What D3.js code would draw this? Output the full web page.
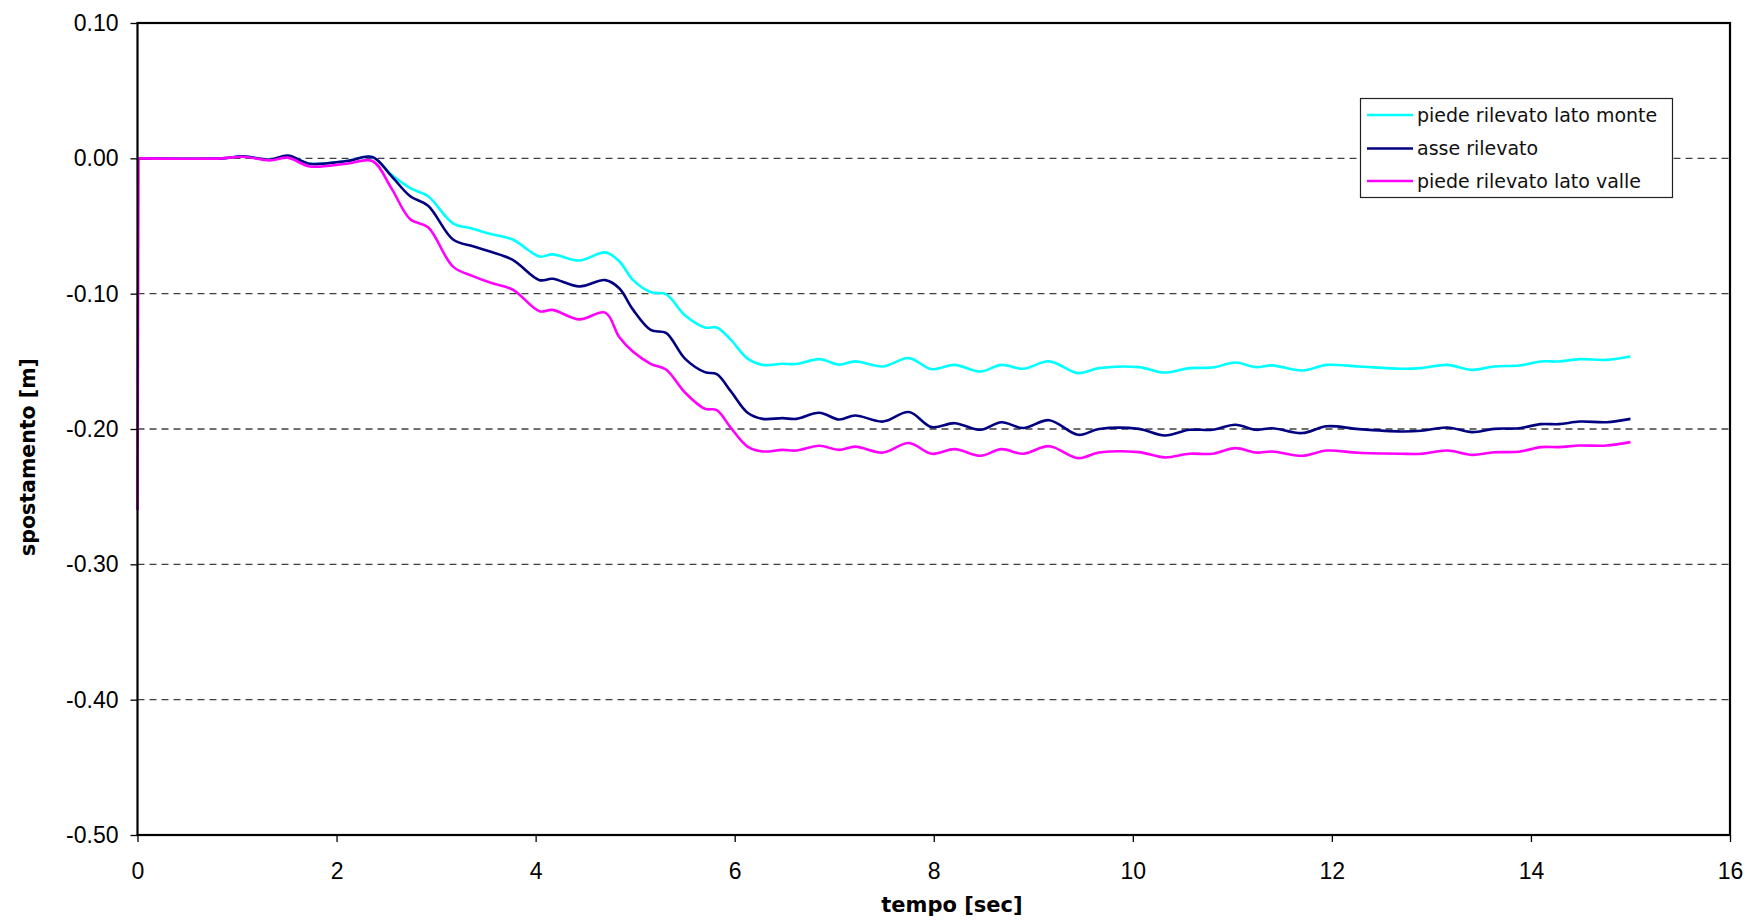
<!DOCTYPE html>
<html>
<head>
<meta charset="utf-8">
<script src="https://cdn.jsdelivr.net/npm/d3@7"></script>
<style>
  html, body { margin: 0; padding: 0; background: #ffffff; }
  svg { display: block; }
</style>
</head>
<body>
<svg id="chart" width="1751" height="922"></svg>
<script>
// Time samples [sec]
const tempo = [
  0, 0.01, 0.85, 1.06, 1.33, 1.51, 1.73, 2.10, 2.36, 2.55, 2.74, 2.92,
  3.17, 3.37, 3.55, 3.77, 4.04, 4.17, 4.44, 4.70, 4.84, 4.98, 5.16, 5.31,
  5.50, 5.70, 5.82, 5.96, 6.13, 6.28, 6.48, 6.62, 6.85, 7.05, 7.21, 7.49,
  7.75, 7.98, 8.21, 8.47, 8.68, 8.90, 9.16, 9.45, 9.66, 10.06, 10.32, 10.57,
  10.80, 11.03, 11.24, 11.40, 11.70, 11.95, 12.27, 12.70, 12.90, 13.16, 13.41,
  13.63, 13.88, 14.10, 14.28, 14.49, 14.76, 15.00
];

// Displacement [m] – toe of embankment, upstream side
const piedeMonte = [
  0, 0, 0, 0.0015, -0.001, 0.0015, -0.004, -0.002, 0.0008, -0.012, -0.022, -0.028,
  -0.048, -0.052, -0.056, -0.060, -0.0726, -0.071, -0.0755, -0.0695, -0.076, -0.090, -0.099, -0.1004,
  -0.116, -0.125, -0.125, -0.134, -0.148, -0.1526, -0.1518, -0.152, -0.1484, -0.1524, -0.150, -0.1538,
  -0.1476, -0.1558, -0.1526, -0.1575, -0.1526, -0.1555, -0.150, -0.1587, -0.155, -0.1543, -0.1583, -0.155,
  -0.1546, -0.1509, -0.1543, -0.153, -0.1568, -0.1526, -0.1538, -0.1555, -0.155, -0.1526, -0.1563,
  -0.1538, -0.1531, -0.1501, -0.1501, -0.1484, -0.1489, -0.1464
];

// Displacement [m] – embankment axis
const asse = [
  0, 0, 0, 0.0015, -0.001, 0.002, -0.004, -0.002, 0.001, -0.013, -0.028, -0.035,
  -0.060, -0.065, -0.069, -0.075, -0.090, -0.089, -0.0947, -0.090, -0.096, -0.112, -0.127, -0.129,
  -0.148, -0.158, -0.1595, -0.172, -0.188, -0.1925, -0.192, -0.1925, -0.188, -0.193, -0.190, -0.1945,
  -0.1875, -0.1986, -0.1957, -0.2006, -0.195, -0.1993, -0.1935, -0.2043, -0.200, -0.1999, -0.2048, -0.2006,
  -0.2006, -0.1969, -0.2006, -0.1994, -0.203, -0.198, -0.2001, -0.2018, -0.2013, -0.1989, -0.2023,
  -0.1999, -0.1994, -0.1964, -0.1964, -0.1945, -0.195, -0.1925
];

// Displacement [m] – toe of embankment, downstream side
const piedeValle = [
  -0.260, 0, 0, 0.0012, -0.0015, 0.0005, -0.006, -0.004, -0.002, -0.022, -0.045, -0.051,
  -0.080, -0.087, -0.092, -0.097, -0.113, -0.112, -0.119, -0.114, -0.132, -0.143, -0.152, -0.156,
  -0.173, -0.185, -0.186, -0.199, -0.213, -0.2166, -0.2154, -0.2159, -0.2124, -0.2154, -0.213, -0.2174,
  -0.2104, -0.2183, -0.2149, -0.2198, -0.2149, -0.2183, -0.2127, -0.2215, -0.2174, -0.2171, -0.221, -0.2183,
  -0.2183, -0.2141, -0.2174, -0.2166, -0.2198, -0.2159, -0.2176, -0.2183, -0.2183, -0.2159, -0.2191,
  -0.2172, -0.2168, -0.2134, -0.2134, -0.2122, -0.2122, -0.2097
];

const seriesNames = ["piede rilevato lato monte", "asse rilevato", "piede rilevato lato valle"];
const seriesColors = ["#00ffff", "#000080", "#ff00ff"];

const xTicks = [0, 2, 4, 6, 8, 10, 12, 14, 16];
const yTicks = [0.10, 0.00, -0.10, -0.20, -0.30, -0.40, -0.50];
const yTickLabels = ["0.10", "0.00", "-0.10", "-0.20", "-0.30", "-0.40", "-0.50"];
const gridValues = [0.00, -0.10, -0.20, -0.30, -0.40];

const xTitle = "tempo [sec]";
const yTitle = "spostamento [m]";

// ---- layout ----
const plot = { left: 137.5, right: 1730, top: 23, bottom: 835 };
const svg = d3.select("#chart");

const x = d3.scaleLinear().domain([0, 16]).range([plot.left, plot.right]);
const y = d3.scaleLinear().domain([-0.5, 0.1]).range([plot.bottom, plot.top]);

const tickFont = "'Liberation Sans', Arial, sans-serif";
const titleFont = "'DejaVu Sans', 'Century Gothic', sans-serif";

// dashed horizontal gridlines
svg.append("g")
  .selectAll("line")
  .data(gridValues)
  .join("line")
  .attr("x1", plot.left).attr("x2", plot.right)
  .attr("y1", d => y(d)).attr("y2", d => y(d))
  .attr("stroke", "#404040")
  .attr("stroke-width", 1.3)
  .attr("stroke-dasharray", "7,5");

// series lines: the first sample is a jump, drawn straight; the rest is smoothed
const series = [piedeMonte, asse, piedeValle];
const smooth = d3.line()
  .x(d => x(d[0]))
  .y(d => y(d[1]))
  .curve(d3.curveCatmullRom.alpha(0.5));
const straight = d3.line()
  .x(d => x(d[0]))
  .y(d => y(d[1]));

const lines = svg.append("g");
series.forEach((vals, i) => {
  const pts = tempo.map((t, k) => [t, vals[k]]);
  lines.append("path")
    .attr("d", straight(pts.slice(0, 2)))
    .attr("fill", "none")
    .attr("stroke", seriesColors[i])
    .attr("stroke-width", 2.6);
  lines.append("path")
    .attr("d", smooth(pts.slice(1)))
    .attr("fill", "none")
    .attr("stroke", seriesColors[i])
    .attr("stroke-width", 2.6)
    .attr("stroke-linejoin", "round");
});

// plot frame
svg.append("rect")
  .attr("x", plot.left).attr("y", plot.top)
  .attr("width", plot.right - plot.left)
  .attr("height", plot.bottom - plot.top)
  .attr("fill", "none")
  .attr("stroke", "#000")
  .attr("stroke-width", 2.2);

// axes
const xAxis = svg.append("g")
  .attr("transform", `translate(0,${plot.bottom})`)
  .call(d3.axisBottom(x).tickValues(xTicks).tickFormat(d3.format("d")).tickSize(7).tickPadding(21));
const yAxis = svg.append("g")
  .attr("transform", `translate(${plot.left},0)`)
  .call(d3.axisLeft(y).tickValues(yTicks).tickFormat((d, i) => yTickLabels[i]).tickSize(7).tickPadding(12));

[xAxis, yAxis].forEach(g => {
  g.select(".domain").remove();
  g.selectAll(".tick line").attr("stroke", "#000").attr("stroke-width", 1.3);
  g.selectAll(".tick text")
    .attr("fill", "#000")
    .style("font-family", tickFont)
    .style("font-size", "23px");
});

// axis titles
svg.append("text")
  .attr("x", 952).attr("y", 912)
  .attr("text-anchor", "middle")
  .style("font-family", titleFont)
  .style("font-weight", "bold")
  .style("font-size", "21px")
  .text(xTitle);

svg.append("text")
  .attr("transform", "translate(35,457) rotate(-90)")
  .attr("text-anchor", "middle")
  .style("font-family", titleFont)
  .style("font-weight", "bold")
  .style("font-size", "20.5px")
  .text(yTitle);

// legend
const legend = svg.append("g");
legend.append("rect")
  .attr("x", 1360.5).attr("y", 98.5)
  .attr("width", 312).attr("height", 99)
  .attr("fill", "#fff")
  .attr("stroke", "#222")
  .attr("stroke-width", 1.2);

const rowY = [115, 148.5, 181];
const rows = legend.selectAll("g.row")
  .data(seriesNames)
  .join("g")
  .attr("class", "row")
  .attr("transform", (d, i) => `translate(0,${rowY[i]})`);
rows.append("line")
  .attr("x1", 1367).attr("x2", 1413)
  .attr("y1", 0).attr("y2", 0)
  .attr("stroke", (d, i) => seriesColors[i])
  .attr("stroke-width", 2.6);
rows.append("text")
  .attr("x", 1417).attr("y", 0)
  .attr("dy", "0.35em")
  .style("font-family", titleFont)
  .style("font-size", "19px")
  .attr("fill", "#111")
  .text(d => d);
</script>
</body>
</html>
